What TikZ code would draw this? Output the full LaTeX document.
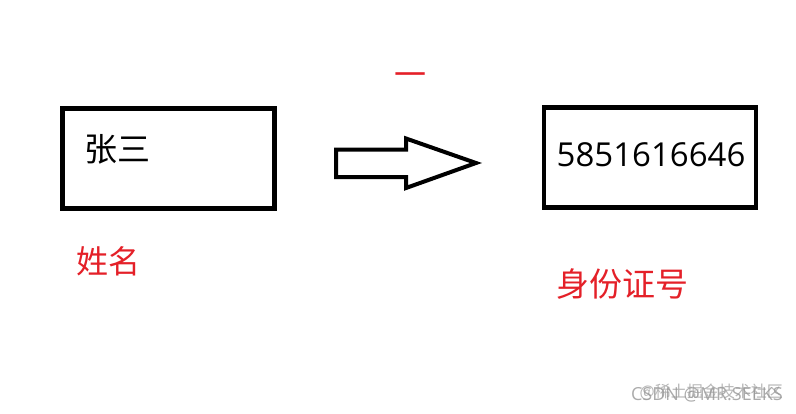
\documentclass[tikz,border=0pt]{standalone}
\usepackage{xcolor}
\usepackage{fontspec}
\usepackage{tikz}
\usetikzlibrary{positioning}
\setmainfont{Open Sans}
\newfontfamily\cjk{Noto Sans CJK SC}
\definecolor{c_label}{RGB}{228, 32, 40}
\definecolor{c_mark}{RGB}{150, 150, 150}
\tikzset{c-box/.style={rectangle, draw=black, line width=4.5pt, minimum width=212pt, minimum height=100pt, inner sep=0pt},
c-text/.style={inner sep=0pt, font=\cjk\fontsize{33pt}{36pt}\selectfont},
c-label/.style={inner sep=0pt, text=c_label, font=\cjk\fontsize{32pt}{36pt}\selectfont},
c-mark/.style={inner sep=0pt, text=c_mark, opacity=0.8, font=\fontsize{18pt}{20pt}\selectfont},
blockarrow/.style={draw=black, line width=4pt, line join=miter, fill=white}}

\begin{document}
\begin{tikzpicture}[x=1pt, y=-1pt]
\useasboundingbox (0,0) rectangle (796,413);
\node (name) [c-box] at (168.5,158.5) {};
\node (id) [c-box] at (650,157.5) {};
\node (zs) [c-text, anchor=west] at (84,149) {张三};
\node (num) [inner sep=0pt, font=\fontsize{33pt}{37pt}\selectfont] at (651,155) {5851616646};
\node (namelbl) [c-label] at (108,261) {姓名};
\node (idlbl) [c-label, font=\cjk\fontsize{33pt}{36pt}\selectfont] at (622,284) {身份证号};
\node (one) [c-label] at (410,80) {一};
% block arrow between the boxes
\coordinate (tail) at (336,163);
\coordinate (tip) at (476,163);
\draw [blockarrow] (tail) ++(0,-13.5) -- ++(70,0) -- ++(0,-11) -- (tip) -- (406,188) -- ++(0,-11) -- ++(-70,0) -- cycle;
% watermark
\node (csdn) [c-mark, anchor=east] at (783,395) {CSDN @MR.SEEKS};
\node (juejin) [c-mark, anchor=east, font=\cjk\fontsize{16pt}{18pt}\selectfont, opacity=0.7] at (783,392) {@稀土掘金技术社区};
\end{tikzpicture}
\end{document}
